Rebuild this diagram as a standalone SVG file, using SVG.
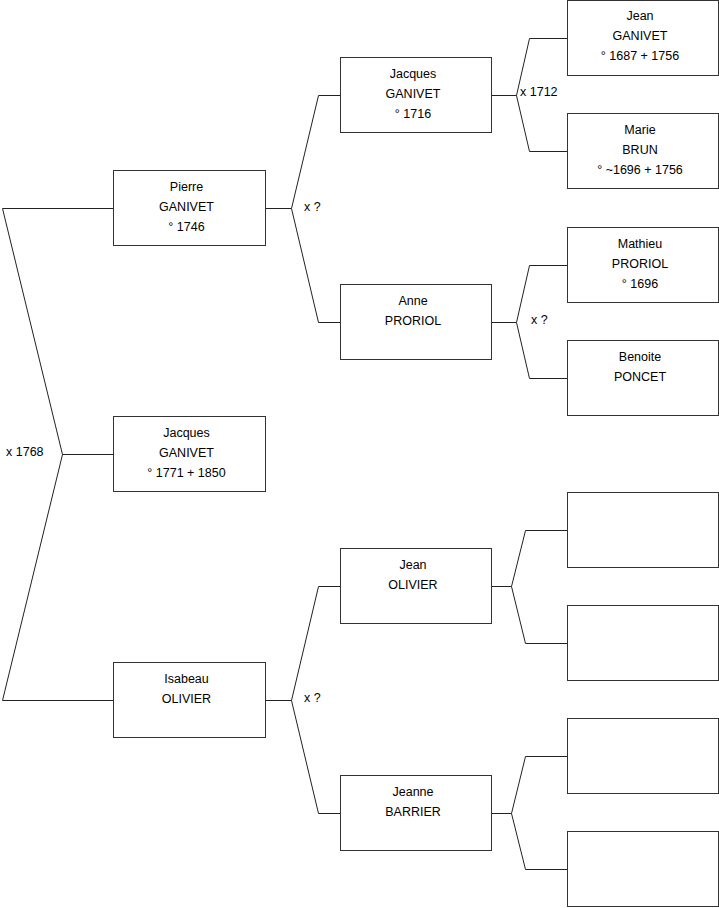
<svg xmlns="http://www.w3.org/2000/svg" width="719" height="908" viewBox="0 0 719 908">
<style>
.box{fill:#fff;stroke:#333;stroke-width:1}
.con{fill:none;stroke:#222;stroke-width:1}
text{font-family:"Liberation Sans",Arial,sans-serif;font-size:12.5px;fill:#000}
.n{text-anchor:middle}
</style>
<rect width="719" height="908" fill="#fff"/>
<g id="connectors" class="con">
<path d="M113.5,208.5H2.5L62.5,454.5L2.5,700.5H113.5M62.5,454.5H113.5"/>
<path d="M265.5,208.5H291.5M340.5,95.5H318.5L291.5,208.5L318.5,322.5H340.5"/>
<path d="M265.5,700.5H291.5M340.5,586.5H318.5L291.5,700.5L318.5,813.5H340.5"/>
<path d="M491.5,95.5H516.5M567.5,38.5H529.5L516.5,95.5L529.5,151.5H567.5"/>
<path d="M491.5,322.5H516.5M567.5,265.5H529.5L516.5,322.5L529.5,378.5H567.5"/>
<path d="M491.5,586.5H511.5M567.5,530.5H525.5L511.5,586.5L525.5,643.5H567.5"/>
<path d="M491.5,813.5H511.5M567.5,756.5H525.5L511.5,813.5L525.5,869.5H567.5"/>
</g>
<g id="labels">
<text x="6" y="456">x 1768</text>
<text x="304" y="211">x ?</text>
<text x="304" y="702">x ?</text>
<text x="520" y="96">x 1712</text>
<text x="531" y="324">x ?</text>
</g>
<g id="pierre"><rect class="box" x="113.5" y="170.5" width="152" height="75"/>
<text class="n" x="186.5" y="191">Pierre</text><text class="n" x="186.5" y="211">GANIVET</text><text class="n" x="186.5" y="231">° 1746</text></g>
<g id="jacques1771"><rect class="box" x="113.5" y="416.5" width="152" height="75"/>
<text class="n" x="186.5" y="437">Jacques</text><text class="n" x="186.5" y="457">GANIVET</text><text class="n" x="186.5" y="477">° 1771 + 1850</text></g>
<g id="isabeau"><rect class="box" x="113.5" y="662.5" width="152" height="75"/>
<text class="n" x="186.5" y="683">Isabeau</text><text class="n" x="186.5" y="703">OLIVIER</text></g>
<g id="jacques1716"><rect class="box" x="340.5" y="57.5" width="151" height="75"/>
<text class="n" x="413" y="78">Jacques</text><text class="n" x="413" y="98">GANIVET</text><text class="n" x="413" y="118">° 1716</text></g>
<g id="anne"><rect class="box" x="340.5" y="284.5" width="151" height="75"/>
<text class="n" x="413" y="305">Anne</text><text class="n" x="413" y="325">PRORIOL</text></g>
<g id="jeanolivier"><rect class="box" x="340.5" y="548.5" width="151" height="75"/>
<text class="n" x="413" y="569">Jean</text><text class="n" x="413" y="589">OLIVIER</text></g>
<g id="jeanne"><rect class="box" x="340.5" y="775.5" width="151" height="75"/>
<text class="n" x="413" y="796">Jeanne</text><text class="n" x="413" y="816">BARRIER</text></g>
<g id="jean1687"><rect class="box" x="567.5" y="0.5" width="151" height="75"/>
<text class="n" x="640" y="20">Jean</text><text class="n" x="640" y="40">GANIVET</text><text class="n" x="640" y="60">° 1687 + 1756</text></g>
<g id="marie"><rect class="box" x="567.5" y="113.5" width="151" height="75"/>
<text class="n" x="640" y="134">Marie</text><text class="n" x="640" y="154">BRUN</text><text class="n" x="640" y="174">° ~1696 + 1756</text></g>
<g id="mathieu"><rect class="box" x="567.5" y="227.5" width="151" height="75"/>
<text class="n" x="640" y="248">Mathieu</text><text class="n" x="640" y="268">PRORIOL</text><text class="n" x="640" y="288">° 1696</text></g>
<g id="benoite"><rect class="box" x="567.5" y="340.5" width="151" height="75"/>
<text class="n" x="640" y="361">Benoite</text><text class="n" x="640" y="381">PONCET</text></g>
<g id="empty1"><rect class="box" x="567.5" y="492.5" width="151" height="75"/></g>
<g id="empty2"><rect class="box" x="567.5" y="605.5" width="151" height="75"/></g>
<g id="empty3"><rect class="box" x="567.5" y="718.5" width="151" height="75"/></g>
<g id="empty4"><rect class="box" x="567.5" y="831.5" width="151" height="75"/></g>
</svg>
